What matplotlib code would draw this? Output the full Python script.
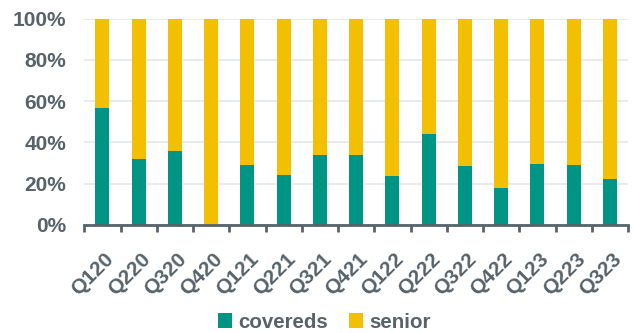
import matplotlib
matplotlib.use("Agg")
import matplotlib.pyplot as plt
import matplotlib.transforms as mtransforms
import numpy as np
from matplotlib.ticker import FixedLocator, PercentFormatter

quarters = ["Q120", "Q220", "Q320", "Q420", "Q121", "Q221", "Q321", "Q421",
            "Q122", "Q222", "Q322", "Q422", "Q123", "Q223", "Q323"]
covereds = [56.6, 31.9, 35.9, 0.0, 29.1, 24.3, 33.8, 33.7,
            23.8, 44.0, 28.6, 18.0, 29.6, 29.1, 22.2]
senior = [100 - v for v in covereds]

TEAL = "#009485"
GOLD = "#F2C000"
SLATE = "#56636b"
GRID = "#e3e8eb"

plt.rcParams["font.family"] = ["Liberation Sans", "DejaVu Sans"]
plt.rcParams["font.weight"] = "bold"

fig = plt.figure(figsize=(6.33, 3.33), dpi=100)
ax = fig.add_axes([84.3 / 633, 1 - 224.7 / 333, (628 - 84.3) / 633, (224.7 - 18.7) / 333])

x = np.arange(len(quarters))
w = 0.386
ax.bar(x, covereds, width=w, color=TEAL, label="covereds", zorder=3)
ax.bar(x, senior, width=w, bottom=covereds, color=GOLD, label="senior", zorder=3)

ax.set_xlim(-0.5, len(quarters) - 0.5)
ax.set_ylim(0, 100)
ax.set_yticks(np.arange(0, 101, 20))
ax.yaxis.set_major_formatter(PercentFormatter(decimals=0))
ax.grid(axis="y", color=GRID, linewidth=1.2, zorder=0)

for s in ["left", "right", "top"]:
    ax.spines[s].set_visible(False)
ax.spines["bottom"].set_color(SLATE)
ax.spines["bottom"].set_linewidth(2)
ax.spines["bottom"].set_zorder(4)

ax.tick_params(axis="y", length=0, pad=13, labelsize=15, labelcolor=SLATE)

# boundary tick marks between categories, labels at category centres
ax.xaxis.set_major_locator(FixedLocator(np.arange(-0.5, len(quarters), 1.0)))
ax.xaxis.set_minor_locator(FixedLocator(x))
ax.tick_params(axis="x", which="major", length=5, width=2, color=SLATE, labelbottom=False)
ax.tick_params(axis="x", which="minor", length=0, pad=17.5)
ax.set_xticks(x, minor=True)
labels = ax.set_xticklabels(quarters, minor=True, rotation=45, ha="right",
                            rotation_mode="anchor", fontsize=15, color=SLATE,
                            fontweight="bold")
shift = mtransforms.ScaledTranslation(2 / 100, 0, fig.dpi_scale_trans)
for lab in labels:
    lab.set_transform(lab.get_transform() + shift)

leg = fig.legend(loc="center", bbox_to_anchor=(0.512, 1 - 322 / 333), ncol=2,
                 frameon=False, fontsize=14.8, handlelength=0.7, handleheight=0.7,
                 handletextpad=0.3, columnspacing=1.0)
for t in leg.get_texts():
    t.set_color(SLATE)
    t.set_fontweight("bold")

fig.savefig("out.png", dpi=100)
